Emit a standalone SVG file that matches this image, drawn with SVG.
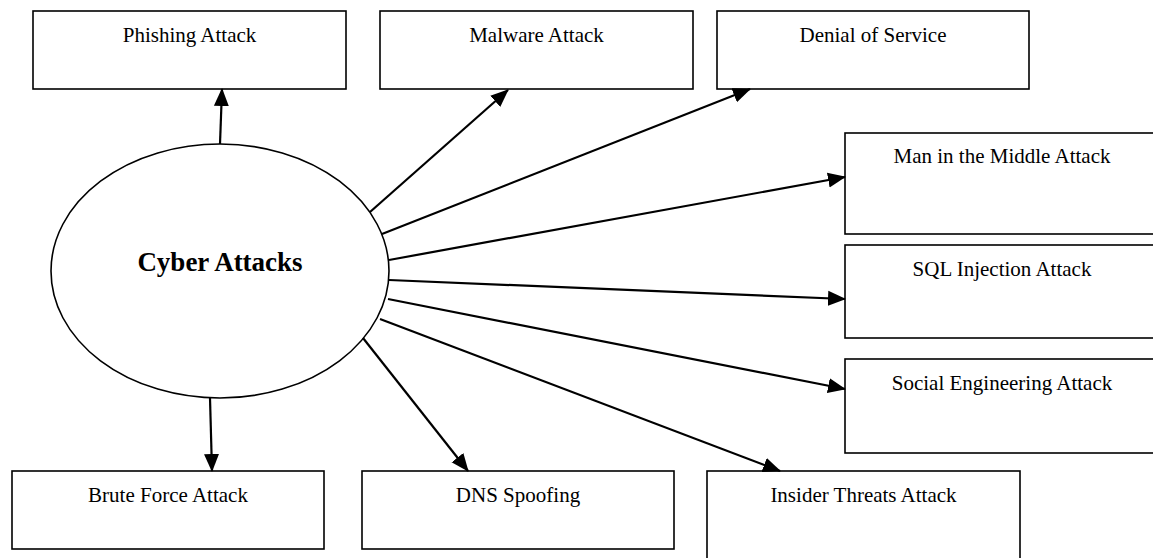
<svg xmlns="http://www.w3.org/2000/svg" width="1153" height="558" viewBox="0 0 1153 558">
  <style>
    .box { fill: #ffffff; stroke: #000000; stroke-width: 1.6; }
    .hub { fill: #ffffff; stroke: #000000; stroke-width: 1.6; }
    .label { font-family: "Liberation Serif", "Times New Roman", serif; font-size: 21px; fill: #000000; text-anchor: middle; }
    .title { font-family: "Liberation Serif", "Times New Roman", serif; font-size: 27px; font-weight: bold; fill: #000000; text-anchor: middle; }
    .link { stroke: #000000; stroke-width: 2.2; fill: none; marker-end: url(#arrow); }
  </style>
  <defs>
    <marker id="arrow" markerUnits="userSpaceOnUse" markerWidth="18" markerHeight="16" viewBox="0 0 18 16" refX="17" refY="8" orient="auto">
      <path d="M0,0.5 L18,8 L0,15.5 Z" fill="#000000"/>
    </marker>
  </defs>
  <rect width="1153" height="558" fill="#ffffff"/>

  <!-- centre node -->
  <g id="cyber-attacks">
    <ellipse class="hub" cx="220" cy="271" rx="169" ry="127"/>
    <text class="title" x="220" y="271">Cyber Attacks</text>
  </g>

  <!-- top row -->
  <g id="phishing">
    <rect class="box" x="33" y="11" width="313" height="78"/>
    <text class="label" x="189.5" y="42">Phishing Attack</text>
  </g>
  <g id="malware">
    <rect class="box" x="380" y="11" width="313" height="78"/>
    <text class="label" x="536.5" y="42">Malware Attack</text>
  </g>
  <g id="denial-of-service">
    <rect class="box" x="717" y="11" width="312" height="78"/>
    <text class="label" x="873" y="42">Denial of Service</text>
  </g>

  <!-- right column -->
  <g id="man-in-the-middle">
    <rect class="box" x="845" y="133" width="314" height="101"/>
    <text class="label" x="1002" y="163">Man in the Middle Attack</text>
  </g>
  <g id="sql-injection">
    <rect class="box" x="845" y="245" width="314" height="93"/>
    <text class="label" x="1002" y="276">SQL Injection Attack</text>
  </g>
  <g id="social-engineering">
    <rect class="box" x="845" y="359" width="314" height="94"/>
    <text class="label" x="1002" y="390">Social Engineering Attack</text>
  </g>

  <!-- bottom row -->
  <g id="brute-force">
    <rect class="box" x="12" y="471" width="312" height="78"/>
    <text class="label" x="168" y="502">Brute Force Attack</text>
  </g>
  <g id="dns-spoofing">
    <rect class="box" x="362" y="471" width="312" height="78"/>
    <text class="label" x="518" y="502">DNS Spoofing</text>
  </g>
  <g id="insider-threats">
    <rect class="box" x="707" y="471" width="313" height="100"/>
    <text class="label" x="863.5" y="502">Insider Threats Attack</text>
  </g>

  <!-- connectors from the centre node -->
  <g id="connectors">
    <line class="link" x1="220" y1="144" x2="222" y2="89"/>
    <line class="link" x1="370" y1="212" x2="508" y2="90"/>
    <line class="link" x1="382" y1="234" x2="750" y2="89"/>
    <line class="link" x1="389" y1="260" x2="845" y2="177"/>
    <line class="link" x1="389" y1="280" x2="845" y2="299"/>
    <line class="link" x1="388" y1="299" x2="845" y2="389"/>
    <line class="link" x1="380" y1="319" x2="780" y2="471"/>
    <line class="link" x1="363" y1="338" x2="468" y2="471"/>
    <line class="link" x1="210" y1="398" x2="212" y2="471"/>
  </g>
</svg>
